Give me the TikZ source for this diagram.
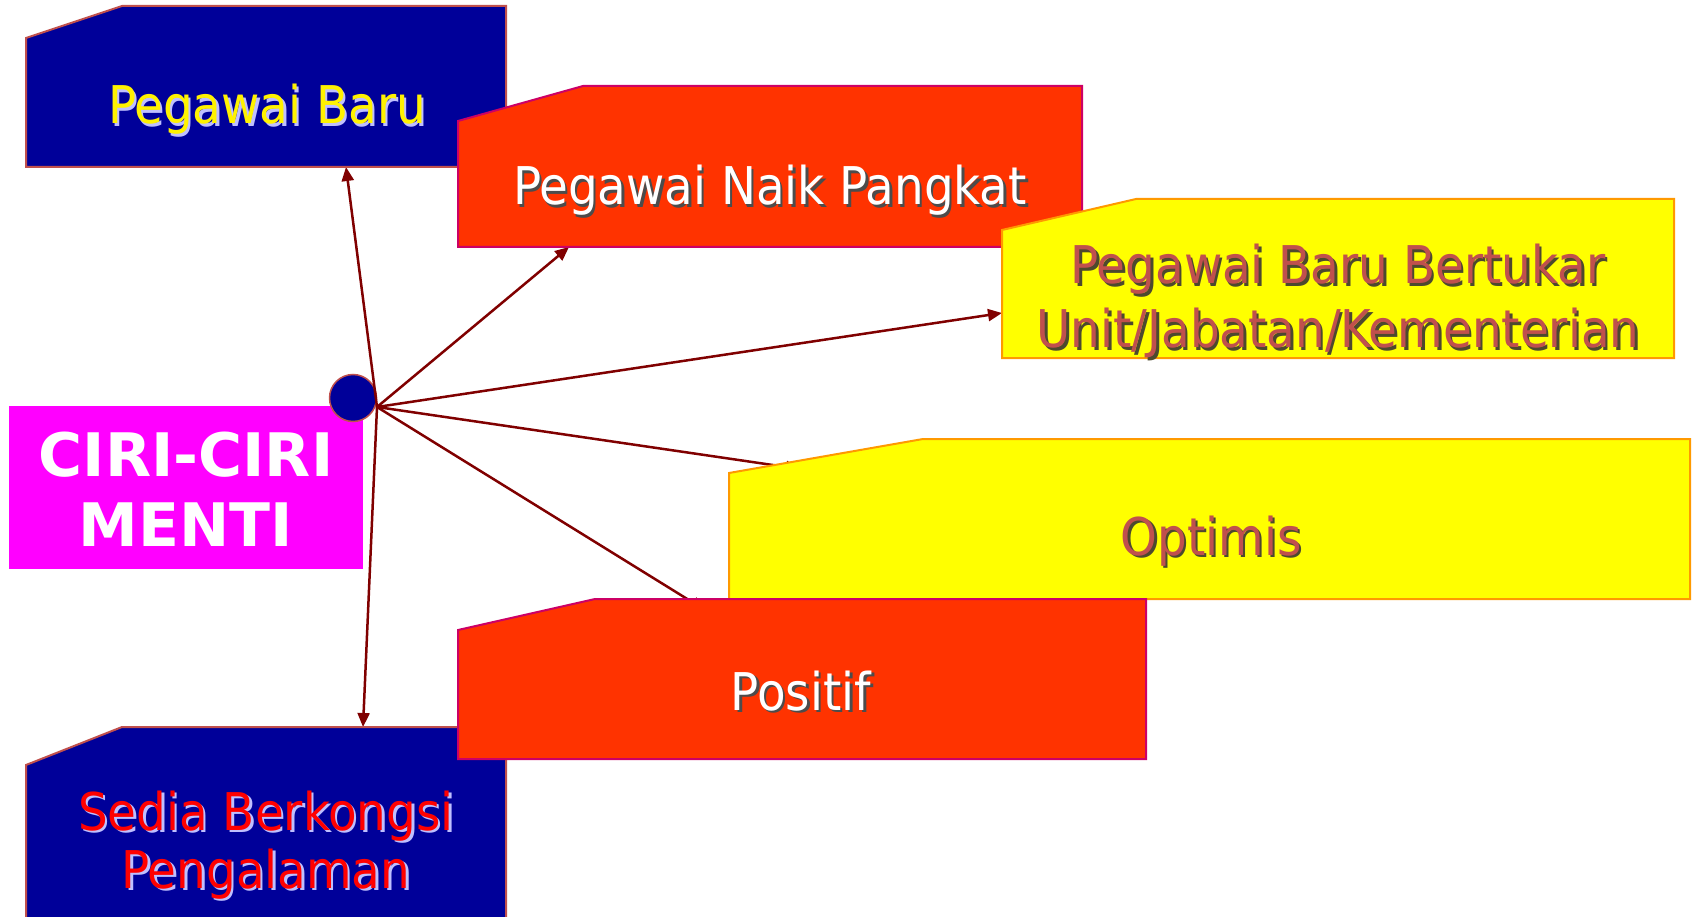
\documentclass[tikz,border=0pt]{standalone}
\usepackage{fontspec}
\setmainfont{DejaVu Sans Condensed}
\newfontfamily\cirifont{DejaVu Sans}
\usetikzlibrary{arrows.meta}

\definecolor{navyfill}{RGB}{0,0,153}
\definecolor{navyline}{RGB}{192,80,77}
\definecolor{redfill}{RGB}{255,51,0}
\definecolor{redline}{RGB}{204,0,102}
\definecolor{yelfill}{RGB}{255,255,0}
\definecolor{yelline}{RGB}{255,153,0}
\definecolor{magfill}{RGB}{255,0,255}
\definecolor{brownink}{RGB}{192,80,77}
\definecolor{arrowred}{RGB}{128,0,0}

%% text with a small shadow below right
\newcommand\shtext[3]{\makebox[0pt][l]{\kern2.5pt\raisebox{-2.5pt}{\color{#2}#3}}{\color{#1}#3}}

\tikzset{
  link/.style={draw=arrowred, line width=2.5pt, -{Triangle[length=14pt,width=12pt]}},
  navybox/.style={fill=navyfill, draw=navyline, line width=2pt},
  redbox/.style={fill=redfill, draw=redline, line width=2pt},
  yelbox/.style={fill=yelfill, draw=yelline, line width=2pt},
  boxtext/.style={font=\fontsize{52}{64}\selectfont, inner sep=0pt, align=center, anchor=base},
  ciritext/.style={font=\cirifont\fontsize{60}{70}\selectfont\bfseries, text=white, inner sep=0pt, align=center, anchor=base},
  hubdot/.style={circle, fill=navyfill, draw=navyline, line width=1.5pt, minimum size=47pt, inner sep=0pt}
}

\begin{document}
\begin{tikzpicture}[x=1pt,y=-1pt]%% start picture
    \useasboundingbox (0,0) rectangle (1692,917);

        %% title block and hub
        \fill[magfill] (9,406) rectangle (363,569);
        \node[ciritext] (ciri) at (186,546) {CIRI-CIRI\\MENTI};
        \node[hubdot] (dot) at (353,398) {};
        \coordinate (hub) at (377,407);

        %% connector ends
        \coordinate (pbin) at (346,167);
        \coordinate (npin) at (569,247);
        \coordinate (btin) at (1002,313);
        \coordinate (opin) at (800,469);
        \coordinate (psin) at (705,610);
        \coordinate (sdin) at (363,727);

        \draw[link] (hub) to (pbin);
        \draw[link] (hub) to (npin);
        \draw[link] (hub) to (btin);
        \draw[link] (hub) to (opin);
        \draw[link] (hub) to (psin);
        \draw[link] (hub) to (sdin);

        %% Pegawai Baru
        \filldraw[navybox] (26,38) -- (122,6) -- (506,6) -- (506,167) -- (26,167) -- cycle;
        \node[boxtext] (pb) at (267,124) {\shtext{yellow}{blue!25!white}{Pegawai Baru}};

        %% Sedia Berkongsi Pengalaman
        \filldraw[navybox] (26,765) -- (122,727) -- (506,727) -- (506,930) -- (26,930) -- cycle;
        \node[boxtext] (sd) at (266,888) {\shtext{red}{blue!25!white}{Sedia Berkongsi}\\[-6pt]\shtext{red}{blue!25!white}{Pengalaman}};

        %% Pegawai Naik Pangkat
        \filldraw[redbox] (458,121) -- (583,86) -- (1082,86) -- (1082,247) -- (458,247) -- cycle;
        \node[boxtext] (np) at (770,205) {\shtext{white}{black!70}{Pegawai Naik Pangkat}};

        %% Pegawai Baru Bertukar
        \filldraw[yelbox] (1002,230) -- (1136,199) -- (1674,199) -- (1674,358) -- (1002,358) -- cycle;
        \node[boxtext] (bt) at (1338,348) {\shtext{brownink}{black!60!olive}{Pegawai Baru Bertukar}\\\shtext{brownink}{black!60!olive}{Unit/Jabatan/Kementerian}};

        %% Optimis
        \filldraw[yelbox] (729,473) -- (923,439) -- (1690,439) -- (1690,599) -- (729,599) -- cycle;
        \node[boxtext] (op) at (1211,555) {\shtext{brownink}{black!60!olive}{Optimis}};

        %% Positif
        \filldraw[redbox] (458,630) -- (595,599) -- (1146,599) -- (1146,759) -- (458,759) -- cycle;
        \node[boxtext] (ps) at (801,710) {\shtext{white}{black!70}{Positif}};

\end{tikzpicture}
\end{document}
